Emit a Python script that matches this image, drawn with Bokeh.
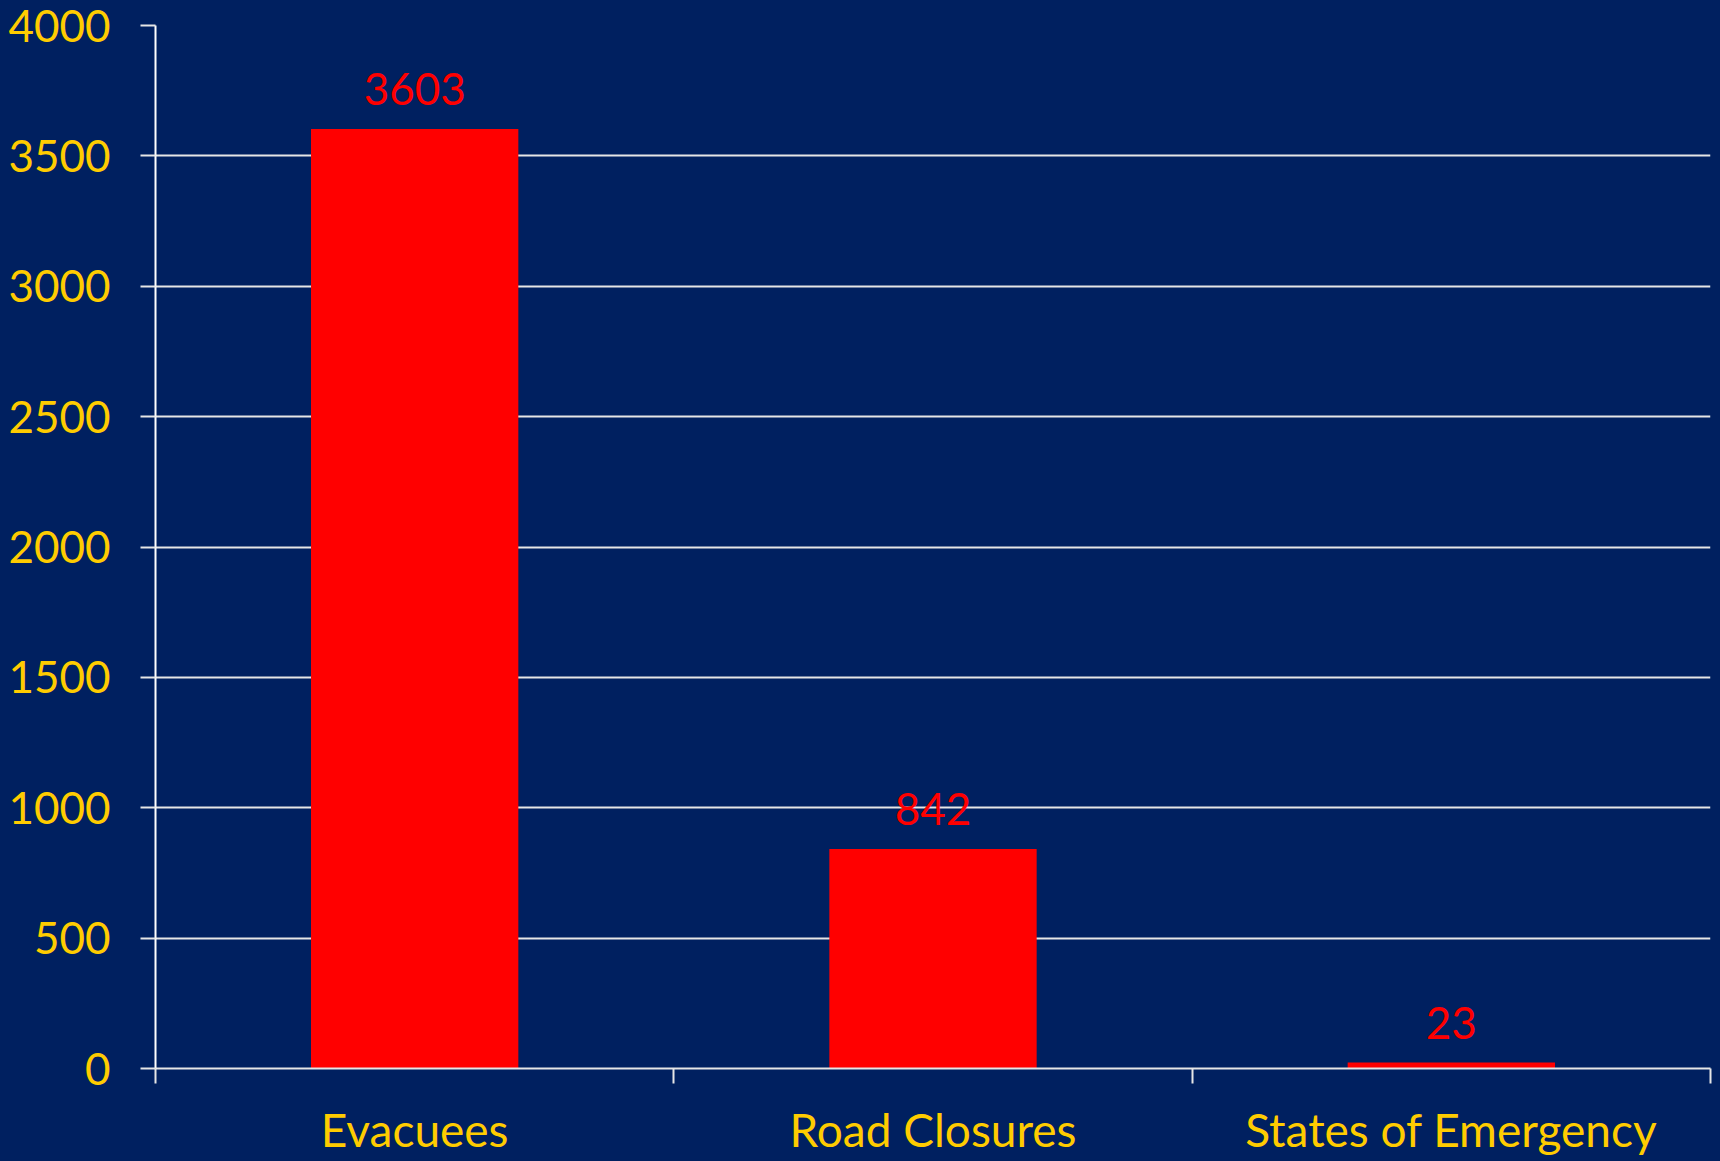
from bokeh.plotting import figure
from bokeh.models import Range1d, FixedTicker, CustomJSTickFormatter, ColumnDataSource
from bokeh.core.properties import value
from bokeh.embed import file_html
from bokeh.resources import INLINE

categories = ["Evacuees", "Road Closures", "States of Emergency"]
values = [3603, 842, 23]
y_ticks = [0, 500, 1000, 1500, 2000, 2500, 3000, 3500, 4000]

BG = "#002060"
YELLOW = "#FFCC00"
RED = "#FF0000"
LINE = "#E6E6E6"
FONT = "Lato"

xs = [i + 0.5 for i in range(len(categories))]
src = ColumnDataSource(data=dict(x=xs, top=values, label=[str(v) for v in values]))

p = figure(width=1720, height=1161, output_backend="svg", toolbar_location=None,
           x_range=Range1d(0, len(categories)), y_range=Range1d(0, 4000),
           min_border_left=155, min_border_top=25, min_border_right=10, min_border_bottom=93)
p.background_fill_color = BG
p.border_fill_color = BG
p.outline_line_color = None

p.vbar(x="x", top="top", width=0.4, source=src, fill_color=RED, line_color=None)
p.text(x="x", y="top", text="label", source=src, text_color=RED,
       text_font=value(FONT), text_font_size="44px", text_align="center",
       text_baseline="alphabetic", y_offset=-40)

# x axis: labels at category centres, tick marks at category boundaries
p.xaxis.ticker = FixedTicker(ticks=xs, minor_ticks=list(range(len(categories) + 1)))
p.xaxis.formatter = CustomJSTickFormatter(args=dict(cats=categories),
                                          code="return cats[Math.floor(tick)] || ''")
p.xaxis.major_tick_out = 0
p.xaxis.major_tick_in = 0
p.xaxis.minor_tick_out = 15
p.xaxis.minor_tick_in = 0
p.xaxis.minor_tick_line_color = LINE
p.xaxis.minor_tick_line_width = 2
p.xaxis.axis_line_color = LINE
p.xaxis.axis_line_width = 2
p.xaxis.major_label_text_color = YELLOW
p.xaxis.major_label_text_font = FONT
p.xaxis.major_label_text_font_size = "46px"
p.xaxis.major_label_standoff = 18

# y axis
p.yaxis.ticker = FixedTicker(ticks=y_ticks)
p.yaxis.major_tick_out = 15
p.yaxis.major_tick_in = 0
p.yaxis.minor_tick_line_color = None
p.yaxis.major_tick_line_color = LINE
p.yaxis.major_tick_line_width = 2
p.yaxis.axis_line_color = "#FFFFFF"
p.yaxis.axis_line_width = 2
p.yaxis.major_label_text_color = YELLOW
p.yaxis.major_label_text_font = FONT
p.yaxis.major_label_text_font_size = "44px"
p.yaxis.major_label_standoff = 30

p.xgrid.grid_line_color = None
p.ygrid.grid_line_color = LINE
p.ygrid.grid_line_width = 2

html = file_html(p, INLINE)
html = html.replace("<body>", '<body style="background:%s">' % BG)
open("out.html", "w").write(html)
